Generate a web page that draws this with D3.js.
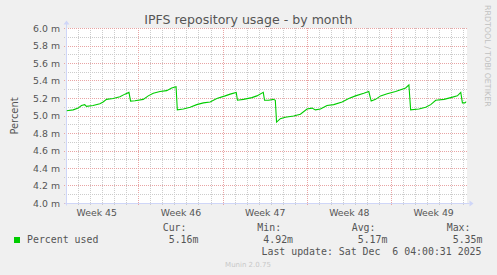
<!DOCTYPE html>
<html><head><meta charset="utf-8">
<script src="https://cdn.jsdelivr.net/npm/d3@7"></script>
<style>
html,body{margin:0;padding:0;background:#f0f0f0;}
svg{display:block;}
</style></head>
<body>
<script>
// ---- data ----
const title = "IPFS repository usage - by month";
const yAxisTitle = "Percent";
const times = [
"2025-11-02T23:45","2025-11-03T13:00","2025-11-03T23:00","2025-11-04T05:30","2025-11-04T12:00","2025-11-04T15:30",
"2025-11-05T04:45","2025-11-05T18:15","2025-11-06T00:45","2025-11-06T07:30","2025-11-06T20:45","2025-11-07T10:15",
"2025-11-07T20:15","2025-11-08T04:15","2025-11-08T07:30","2025-11-08T16:15","2025-11-09T08:45","2025-11-09T18:45",
"2025-11-10T04:45","2025-11-10T18:15","2025-11-11T07:30","2025-11-11T17:30","2025-11-12T02:15","2025-11-12T04:45",
"2025-11-12T16:45","2025-11-13T06:15","2025-11-13T19:30","2025-11-14T08:45","2025-11-14T22:15","2025-11-15T11:30",
"2025-11-16T04:15","2025-11-16T14:15","2025-11-17T02:15","2025-11-17T04:45","2025-11-17T16:45","2025-11-18T09:30",
"2025-11-18T19:30","2025-11-19T08:15","2025-11-19T10:45","2025-11-19T18:45","2025-11-20T04:45","2025-11-20T08:15",
"2025-11-20T10:45","2025-11-20T18:15","2025-11-21T04:15","2025-11-21T20:45","2025-11-22T10:15","2025-11-22T23:30",
"2025-11-23T09:30","2025-11-23T16:15","2025-11-24T02:15","2025-11-24T15:30","2025-11-25T04:45","2025-11-25T21:30",
"2025-11-26T10:45","2025-11-27T00:15","2025-11-27T16:45","2025-11-28T02:45","2025-11-28T07:30","2025-11-28T16:15",
"2025-11-29T02:15","2025-11-29T15:30","2025-11-30T08:15","2025-11-30T18:15","2025-12-01T04:15","2025-12-01T10:45",
"2025-12-01T14:15","2025-12-02T06:45","2025-12-02T20:15","2025-12-03T06:15","2025-12-03T16:15","2025-12-04T08:45",
"2025-12-04T22:15","2025-12-05T11:30","2025-12-05T18:15","2025-12-05T21:30","2025-12-06T02:15","2025-12-06T05:30"
];
const values = [
5.06,5.07,5.09,5.12,5.13,5.11,
5.12,5.14,5.16,5.19,5.20,5.22,
5.25,5.27,5.17,5.175,5.19,5.23,
5.26,5.28,5.29,5.32,5.335,5.07,
5.08,5.10,5.13,5.15,5.16,5.20,
5.23,5.25,5.27,5.18,5.19,5.21,
5.23,5.27,5.18,5.18,5.19,5.18,
4.93,4.97,4.985,5.00,5.02,5.08,
5.09,5.07,5.08,5.12,5.13,5.16,
5.20,5.23,5.26,5.28,5.17,5.19,
5.23,5.255,5.28,5.30,5.32,5.355,
5.07,5.08,5.10,5.13,5.18,5.19,
5.21,5.23,5.27,5.15,5.15,5.165
];
const yMajorTicks = [4.0,4.2,4.4,4.6,4.8,5.0,5.2,5.4,5.6,5.8,6.0];
const yMinorTicks = [4.1,4.3,4.5,4.7,4.9,5.1,5.3,5.5,5.7,5.9];
const weekStarts = ["2025-11-02","2025-11-09","2025-11-16","2025-11-23","2025-11-30"];
const weekLabels = ["Week 45","Week 46","Week 47","Week 48","Week 49"];
const seriesName = "Percent used";
const statLabels = ["Cur:","Min:","Avg:","Max:"];
const statValues = ["5.16m","4.92m","5.17m","5.35m"];
const lastUpdate = "Last update: Sat Dec  6 04:00:31 2025";
const footer = "Munin 2.0.75";
const sideText = "RRDTOOL / TOBI OETIKER";
const domainStart = "2025-11-02T23:40", domainEnd = "2025-12-06T05:40";

// ---- drawing ----
const W = 497, H = 275;
const L = 66.5, R = 466.5, T = 28.5, B = 203.5;
const parse = s => new Date(s + (s.length === 10 ? "T00:00" : "") + "Z");
const x = d3.scaleUtc().domain([parse(domainStart), parse(domainEnd)]).range([L, R]);
const y = d3.scaleLinear().domain([4, 6]).range([B, T]);

const svg = d3.select("body").append("svg").attr("width", W).attr("height", H);
svg.append("rect").attr("width", W).attr("height", H).attr("fill", "#f0f0f0");
svg.append("rect").attr("x", L - 0.5).attr("y", T - 0.5).attr("width", R - L + 1).attr("height", B - T + 1).attr("fill", "#ffffff");

const gridGray = "#cccccc", gridRed = "#e8a4a4", axisCol = "#cfd6f8", fontCol = "#555555";
const fontSans = "'DejaVu Sans', sans-serif", fontMono = "'DejaVu Sans Mono', monospace";
const g = svg.append("g").attr("shape-rendering", "crispEdges");

// day grid
const days = d3.utcDay.range(x.domain()[0], x.domain()[1]);
const weekSet = new Set(weekStarts.map(s => +parse(s)));
days.forEach(d => {
  const isWeek = weekSet.has(+d);
  const xx = Math.round(x(d) - 0.5) + 0.5;
  g.append("line").attr("x1", xx).attr("x2", xx).attr("y1", 28).attr("y2", 206)
    .attr("stroke", isWeek ? gridRed : gridGray).attr("stroke-width", 1)
    .attr("stroke-dasharray", "1,1");
});
// horizontal grid
const hline = (v, col) => {
  const yy = Math.round(y(v) - 0.5) + 0.5;
  g.append("line").attr("x1", 64).attr("x2", 467).attr("y1", yy).attr("y2", yy)
    .attr("stroke", col).attr("stroke-dasharray", "1,1");
};
yMinorTicks.forEach(v => hline(v, gridGray));
yMajorTicks.forEach(v => hline(v, gridRed));

// y labels
svg.append("g").selectAll("text").data(yMajorTicks).join("text")
  .attr("x", 60).attr("y", d => y(d) + 3.4).attr("text-anchor", "end")
  .attr("font-family", fontSans).attr("font-size", 9.33).attr("fill", fontCol)
  .text(d => d.toFixed(1) + " m");

// x labels
svg.append("g").selectAll("text").data(weekStarts).join("text")
  .attr("x", d => x(d3.utcHour.offset(parse(d), 84))).attr("y", 215.7).attr("text-anchor", "middle")
  .attr("font-family", fontSans).attr("font-size", 9.33).attr("fill", fontCol)
  .text((d, i) => weekLabels[i]);

// axes
svg.append("line").attr("x1", L).attr("x2", L).attr("y1", B + 2).attr("y2", T - 5).attr("stroke", axisCol);
svg.append("line").attr("x1", L - 2).attr("x2", R + 3).attr("y1", B).attr("y2", B).attr("stroke", axisCol);
svg.append("path").attr("d", `M${L - 3},${T - 4}L${L + 3},${T - 4}L${L},${T - 8}Z`).attr("fill", axisCol);
svg.append("path").attr("d", `M${R + 3},${B - 3}L${R + 3},${B + 3}L${R + 7},${B}Z`).attr("fill", axisCol);

// data line
svg.append("clipPath").attr("id", "c").append("rect").attr("x", L).attr("y", T - 1).attr("width", R - L).attr("height", B - T + 1);
const pts = times.map((t, i) => [parse(t), values[i]]);
svg.append("path").datum(pts).attr("clip-path", "url(#c)")
  .attr("d", d3.line().x(d => x(d[0])).y(d => y(d[1])))
  .attr("fill", "none").attr("stroke", "#00cc00").attr("stroke-width", 1.1);

// title
svg.append("text").attr("x", 248.3).attr("y", 23.5).attr("text-anchor", "middle")
  .attr("font-family", fontSans).attr("font-size", 12.55).attr("fill", fontCol).text(title);
// y title
svg.append("text").attr("transform", `translate(17.5,${(T + B) / 2}) rotate(-90)`).attr("text-anchor", "middle")
  .attr("font-family", fontSans).attr("font-size", 9.9).attr("fill", fontCol).text(yAxisTitle);
// side text
svg.append("text").attr("transform", `translate(485,5) rotate(90)`).attr("text-anchor", "start")
  .attr("font-family", fontSans).attr("font-size", 7.9).attr("fill", "#c0c0c0").text(sideText);

// legend
svg.append("rect").attr("x", 14).attr("y", 237).attr("width", 6).attr("height", 6).attr("fill", "#00cc00");
svg.append("text").attr("x", 27).attr("y", 243).attr("font-family", fontMono).attr("font-size", 9.9).attr("fill", fontCol)
  .attr("xml:space", "preserve").text(seriesName);
const statX = [162.7, 257.3, 351.7, 446.7];
statLabels.forEach((s, i) => {
  svg.append("text").attr("x", statX[i]).attr("y", 231).attr("font-family", fontMono).attr("font-size", 9.9)
    .attr("fill", fontCol).text(s);
  svg.append("text").attr("x", statX[i] + 6).attr("y", 243).attr("font-family", fontMono).attr("font-size", 9.9)
    .attr("fill", fontCol).text(statValues[i]);
});
svg.append("text").attr("x", 261.5).attr("y", 255).attr("font-family", fontMono).attr("font-size", 9.9)
  .attr("fill", fontCol).attr("xml:space", "preserve").style("white-space", "pre").text(lastUpdate);
svg.append("text").attr("x", 248).attr("y", 266.5).attr("text-anchor", "middle").attr("font-family", fontSans)
  .attr("font-size", 7).attr("fill", "#c8c8c8").text(footer);
</script>
</body></html>
